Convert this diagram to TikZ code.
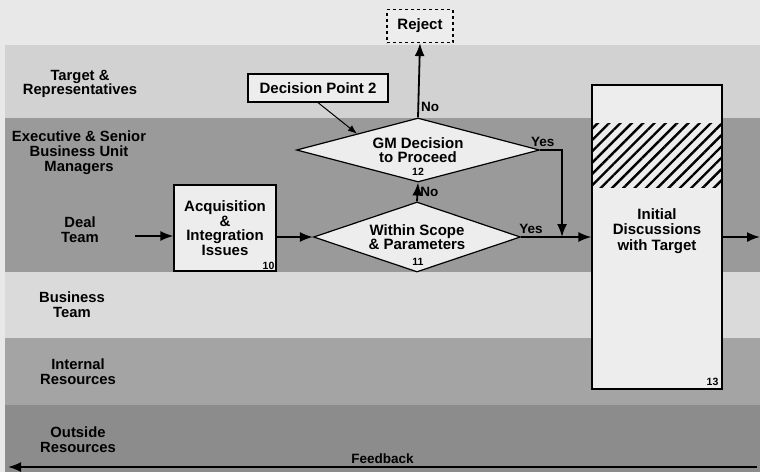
\documentclass[tikz,border=0pt]{standalone}
\usepackage{fontspec}
\setmainfont{Liberation Sans}
\usetikzlibrary{shapes.geometric,arrows.meta,patterns.meta,positioning}

\definecolor{paper}{HTML}{E8E8E8}
\definecolor{boxfill}{HTML}{EDEDED}
\definecolor{lanetarget}{HTML}{D2D2D2}
\definecolor{lanedeal}{HTML}{9A9A9A}
\definecolor{lanebiz}{HTML}{DADADA}
\definecolor{laneint}{HTML}{A4A4A4}
\definecolor{laneout}{HTML}{8C8C8C}

\tikzset{
  lanelbl/.style={align=center, font=\bfseries\fontsize{14.8}{14.8}\selectfont},
  box/.style={draw, line width=1.2pt, fill=boxfill, align=center, inner sep=2pt,
    font=\bfseries\fontsize{15}{14.5}\selectfont},
  dia/.style={diamond, draw, line width=1.2pt, fill=boxfill, inner sep=0pt, align=center,
    font=\bfseries\fontsize{15}{14.5}\selectfont},
  num/.style={font=\bfseries\fontsize{10.5}{10.5}\selectfont, inner sep=2pt},
  yn/.style={font=\bfseries\fontsize{13.5}{13.5}\selectfont, inner sep=2pt},
  flow/.style={->, line width=1.8pt}
}

\begin{document}
\begin{tikzpicture}[x=1pt, y=-1pt, >={Latex[length=13pt,width=10pt]}]
\useasboundingbox (0,0) rectangle (760,472);
\fill[paper] (0,0) rectangle (760,472);

% swim lanes
\fill[lanetarget] (5,45) rectangle (760,118);
\fill[lanedeal] (5,118) rectangle (760,272);
\fill[lanebiz] (5,272) rectangle (760,338);
\fill[laneint] (5,338) rectangle (760,405);
\fill[laneout] (5,405) rectangle (760,472);

\node[lanelbl] (target) at (80,84) {Target \&\\Representatives};
\node[lanelbl] (exec) at (79,153) {Executive \& Senior\\Business Unit\\Managers};
\node[lanelbl] (deal) at (80,230) {Deal\\Team};
\node[lanelbl] (biz) at (72,305) {Business\\Team};
\node[lanelbl] (internal) at (78,372) {Internal\\Resources};
\node[lanelbl] (outside) at (78,440) {Outside\\Resources};

% steps
\node[box, dashed, minimum width=66, minimum height=33] (reject) at (420,26) {Reject};
\node[box, minimum width=140, minimum height=28] (dp) at (318,88) {Decision Point 2};
\node[dia, aspect=4, minimum width=243, minimum height=64] (gm) at (418,150) {GM Decision\\to Proceed};
\node[dia, aspect=3, minimum width=207, minimum height=70] (scope) at (417,237) {Within Scope\\\& Parameters};
\node[box, minimum width=102, minimum height=86] (acq) at (225,228) {Acquisition\\\&\\Integration\\Issues};
\node[box, minimum width=130, minimum height=304] (init) at (657,237) {};
\fill[pattern={Lines[angle=45,distance=8pt,line width=2.4pt]}]
  ([xshift=1pt]init.west |- 0,123) rectangle ([xshift=-1pt]init.east |- 0,187);
\node[align=center, font=\bfseries\fontsize{15}{15.5}\selectfont] (initlbl) at (657,231) {Initial\\Discussions\\with Target};

\node[num] (gmnum) at (418,172) {12};
\node[num] (scopenum) at (418,262) {11};
\node[num, anchor=south east] (acqnum) at (acq.south east) {10};
\node[num, anchor=south east, inner sep=4pt] (initnum) at (init.south east) {13};

% connectors
\coordinate (entry) at (135,236);
\coordinate (join) at (562,237);
\coordinate (exit) at (760,237);
\coordinate (fbright) at (757,467);
\coordinate (fbleft) at (8,467);

\draw[flow] (entry) -- (acq.west |- entry);
\draw[flow] (acq.east |- scope.west) -- (scope.west);
\draw[flow] (scope.east) -- (init.west |- scope.east) node[yn, above, pos=0.14] {Yes};
\draw[flow] (gm.east) -| (join) node[yn, above, pos=0.06] {Yes};
\draw[flow] (gm.north) -- (reject.south) node[yn, right, pos=0.14] {No};
\draw[flow] (scope.north) -- (gm.south) node[yn, right, pos=0.5] {No};
\draw[->, line width=1pt, >={Latex[length=9pt,width=7pt]}] (dp.south) -- (gm.north west);
\draw[flow] (init.east |- scope.east) -- (exit);
\draw[flow] (fbright) -- (fbleft) node[yn, above, midway] {Feedback};
\end{tikzpicture}
\end{document}
